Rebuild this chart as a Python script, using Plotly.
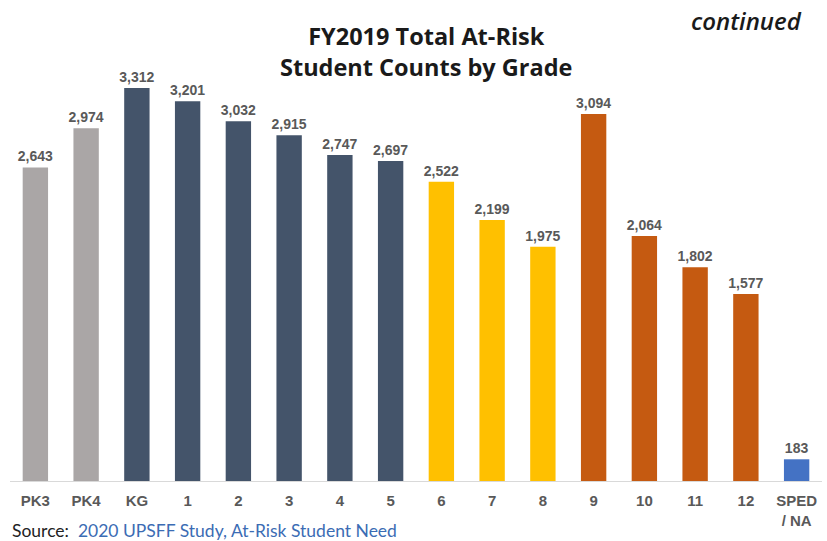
import plotly.graph_objects as go

grades = ["PK3", "PK4", "KG", "1", "2", "3", "4", "5", "6", "7", "8",
          "9", "10", "11", "12", "SPED<br>/ NA"]
counts = [2643, 2974, 3312, 3201, 3032, 2915, 2747, 2697, 2522, 2199, 1975,
          3094, 2064, 1802, 1577, 183]
bar_colors = (["#aaa6a6"] * 2 + ["#44546a"] * 6 + ["#ffc000"] * 3 +
              ["#c55a11"] * 4 + ["#4472c4"])

W, H = 827, 541
ML, MR, MT, MB = 10, 5, 42, 60

fig = go.Figure(go.Bar(
    x=grades, y=counts,
    marker=dict(color=bar_colors, line=dict(width=0)),
    texttemplate="%{y:,}", textposition="outside",
    textfont=dict(family="Liberation Sans, Arial", size=14, color="#595959",
                  weight="bold"),
    constraintext="none", cliponaxis=False,
))


def px_to_paper(x, y):
    """Convert page pixel coordinates to paper coordinates."""
    return ((x - ML) / (W - ML - MR), (H - MB - y) / (H - MT - MB))


def note(text, x, y, xanchor, font):
    px, py = px_to_paper(x, y)
    return dict(text=text, x=px, y=py, xref="paper", yref="paper",
                xanchor=xanchor, yanchor="middle", showarrow=False, font=font)


fig.update_layout(
    width=W, height=H,
    margin=dict(l=ML, r=MR, t=MT, b=MB),
    paper_bgcolor="white", plot_bgcolor="white",
    bargap=0.5, showlegend=False,
    xaxis=dict(showgrid=False, showline=True, linecolor="#d9d9d9", linewidth=1,
               ticks="", ticklabelstandoff=6,
               tickfont=dict(family="Liberation Sans, Arial", size=15,
                             color="#595959", weight="bold")),
    yaxis=dict(range=[0, 3700], visible=False, fixedrange=True),
    annotations=[
        note("<b>FY2019 Total At-Risk<br>Student Counts by Grade</b>", 426, 52,
             "center", dict(family="Open Sans", size=23.5, color="#1a1a1a")),
        note("<i>continued</i>", 804, 20, "right",
             dict(family="Open Sans", size=24, color="#1a1a1a", weight=600)),
        note("Source:  <span style='color:#3b6cb4'>2020 UPSFF Study, At-Risk Student Need</span>",
             10, 530, "left", dict(family="Lato", size=17.5, color="#222222")),
    ],
)

fig.write_html("out.html")
